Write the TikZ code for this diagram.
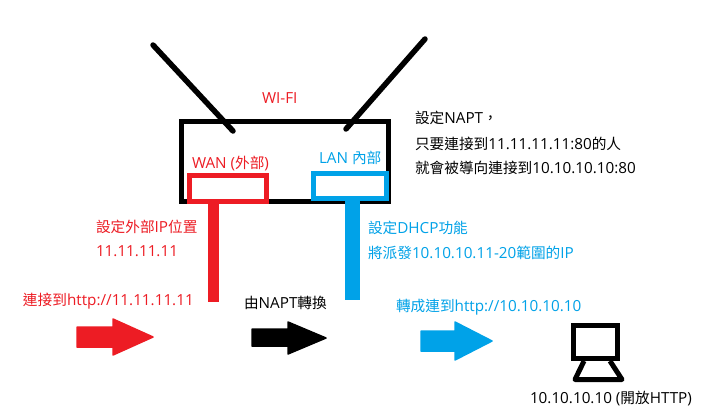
\documentclass[tikz,border=0pt]{standalone}
\usepackage{fontspec}
\setmainfont[Scale=1.04]{Open Sans}
\newfontfamily\cjk{Noto Sans CJK TC}
\definecolor{pred}{HTML}{ED1C24}
\definecolor{pblue}{HTML}{00A2E8}
\tikzset{
  lbl/.style={anchor=base west,inner sep=0pt,outer sep=0pt,font=\fontsize{14.67}{17}\selectfont},
  redlbl/.style={lbl,text=pred},
  bluelbl/.style={lbl,text=pblue},
  blacklbl/.style={lbl,text=black},
  antenna/.style={line width=5.5pt,line cap=round},
  portbox/.style={draw,line width=5pt,fill=white,inner sep=0pt,outer sep=0pt,minimum width=#1},
  fatarrow/.style={fill=#1,draw=#1,line width=1.5pt,line join=round}
}
\begin{document}
\begin{tikzpicture}[x=1pt,y=-1pt]
\useasboundingbox (0,0) rectangle (702,413);
\fill[white] (0,0) rectangle (702,413);
% router
\node[draw,line width=5pt,inner sep=0pt,outer sep=0pt,minimum width=207pt,minimum height=80pt] (router) at (285,161) {};
\coordinate (antLa) at (153,45);
\coordinate (antLb) at (233,131);
\coordinate (antRa) at (425,39);
\coordinate (antRb) at (346,129);
\draw[antenna] (antLa) -- (antLb);
\draw[antenna] (antRa) -- (antRb);
\node[portbox=77pt,minimum height=26pt,draw=pred] (wan) at (228,188.5) {};
\node[portbox=73pt,minimum height=25pt,draw=pblue] (lan) at (350,186) {};
\coordinate (redend) at (213.5,302);
\coordinate (blueend) at (352.5,300);
\draw[pred,line width=11pt] (wan.south -| redend) -- (redend);
\draw[pblue,line width=15pt] (lan.south -| blueend) -- (blueend);
% arrows
\draw[fatarrow=pred] (77,327) -- (113,327) -- (113,319) -- (153,337) -- (113,355) -- (113,347) -- (77,347) -- cycle;
\draw[fatarrow=black] (252,329) -- (288,329) -- (288,322) -- (326,338) -- (288,354) -- (288,346) -- (252,346) -- cycle;
\draw[fatarrow=pblue] (421,331) -- (455,331) -- (455,322) -- (492,341) -- (455,360) -- (455,351) -- (421,351) -- cycle;
% computer
\node[draw,line width=5pt,inner sep=0pt,outer sep=0pt,minimum width=44pt,minimum height=33pt] (screen) at (595.5,342) {};
\coordinate (baseL) at (575,379.5);
\coordinate (baseR) at (622,379.5);
\draw[line width=5pt,line join=round] (584,361) -- (baseL) -- (baseR) -- (610,361);
% labels
\node[redlbl] (wifi) at (262,103) {WI-FI};
\node[redlbl] (wanl) at (192,168) {WAN ({\cjk 外部})};
\node[bluelbl] (lanl) at (319,163) {LAN {\cjk 內部}};
\node[blacklbl] (n1) at (415,123) {{\cjk 設定}NAPT{\cjk ，}};
\node[blacklbl] (n2) at (415,149) {{\cjk 只要連接到}11.11.11.11:80{\cjk 的人}};
\node[blacklbl] (n3) at (415,173) {{\cjk 就會被導向連接到}10.10.10.10:80};
\node[redlbl] (r1) at (96,232) {{\cjk 設定外部}IP{\cjk 位置}};
\node[redlbl] (r2) at (96,256) {11.11.11.11};
\node[redlbl] (r3) at (23,305) {{\cjk 連接到}http://11.11.11.11};
\node[blacklbl] (k1) at (244,308) {{\cjk 由}NAPT{\cjk 轉換}};
\node[bluelbl] (b1) at (368,233) {{\cjk 設定}DHCP{\cjk 功能}};
\node[bluelbl] (b2) at (368,258) {{\cjk 將派發}10.10.10.11-20{\cjk 範圍的}IP};
\node[bluelbl] (b3) at (396,311) {{\cjk 轉成連到}http://10.10.10.10};
\node[blacklbl] (c1) at (530,403) {10.10.10.10 ({\cjk 開放}HTTP)};
\end{tikzpicture}
\end{document}
